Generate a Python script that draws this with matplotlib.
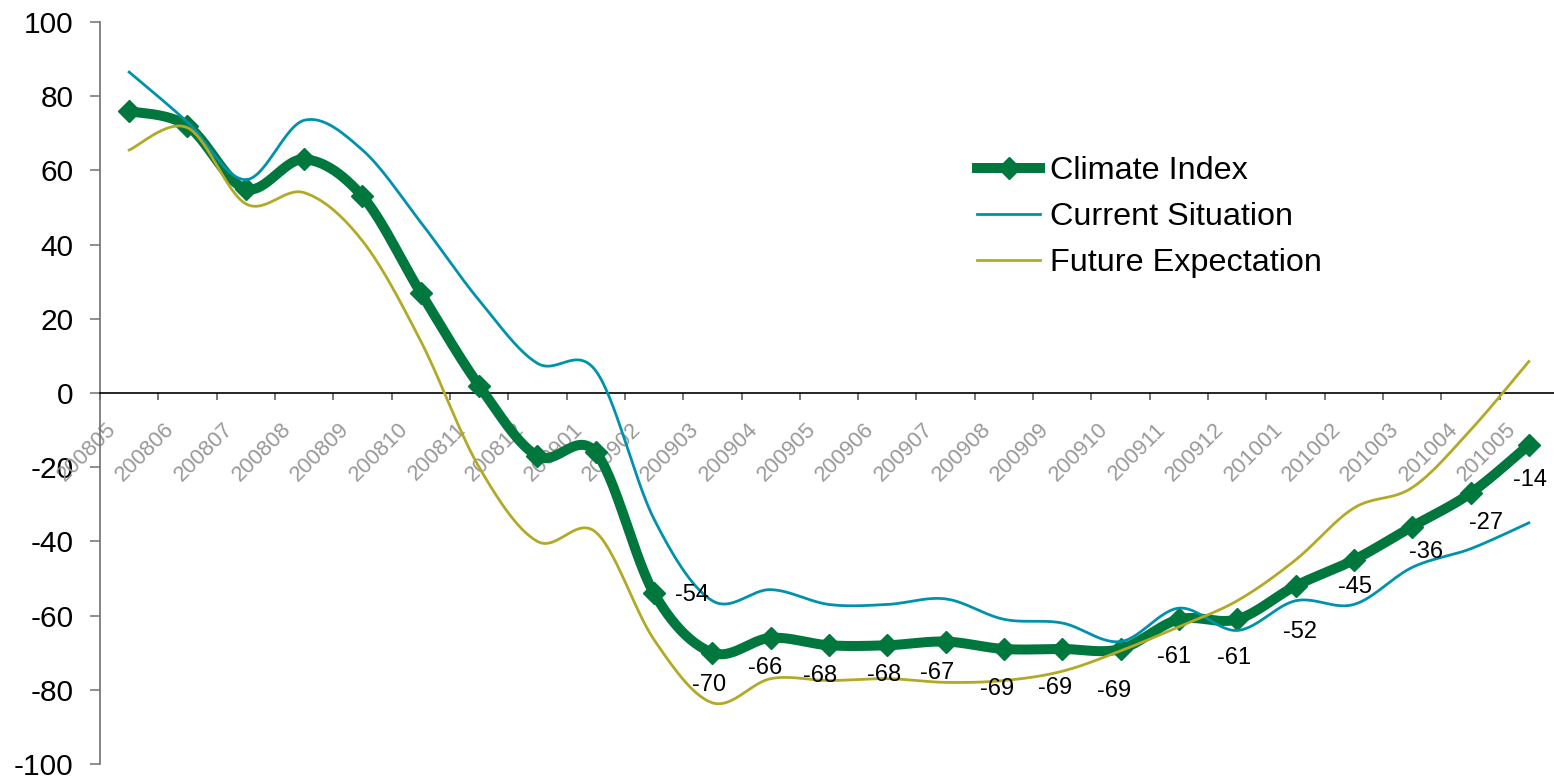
import numpy as np
import matplotlib
matplotlib.use("Agg")
import matplotlib.pyplot as plt
from matplotlib.transforms import ScaledTranslation

plt.rcParams["font.family"] = ["Liberation Sans", "DejaVu Sans"]
plt.rcParams["axes.unicode_minus"] = False

months = ["200805", "200806", "200807", "200808", "200809", "200810", "200811",
          "200812", "200901", "200902", "200903", "200904", "200905", "200906",
          "200907", "200908", "200909", "200910", "200911", "200912", "201001",
          "201002", "201003", "201004", "201005"]
climate_index = [76, 72, 55, 63, 53, 27, 2, -17, -16, -54, -70, -66, -68, -68,
                 -67, -69, -69, -69, -61, -61, -52, -45, -36, -27, -14]
current_situation = [86.5, 73, 57.5, 73.5, 65.5, 46, 25, 8, 6, -34, -56, -53,
                     -57, -57, -55.5, -61, -62, -67, -58, -64, -56, -57, -47, -42, -35]
future_expectation = [65.5, 71.5, 51, 54, 41, 14, -20, -40, -37.5, -66.5, -83.5,
                      -77, -77.5, -77, -78, -77.5, -75, -69.5, -63, -56, -45, -31,
                      -25.5, -10, 8.5]
# months from this index on carry a value label
first_label = 9

GREEN = "#00773D"
TEAL = "#0092AA"
OLIVE = "#B2AA26"

# value label offsets in pixels (dx, dy), one per labelled point
label_offsets = [(38, -2), (-3, -32), (-6, -30), (-9, -31), (-3, -30), (-9, -31),
                 (-7, -40), (-7, -39), (-7, -42), (-5, -38), (-3, -39), (4, -46),
                 (1, -27), (14, -25), (16, -30), (1, -35)]


def smooth(values, steps=30):
    # bezier smoothing through every point, control points from neighbours
    y = np.asarray(values, dtype=float)
    x = np.arange(len(y), dtype=float)
    n = len(y)
    xs, ys = [], []
    for i in range(n - 1):
        a, b = max(i - 1, 0), min(i + 2, n - 1)
        c1 = (x[i] + (x[i + 1] - x[a]) / 6, y[i] + (y[i + 1] - y[a]) / 6)
        c2 = (x[i + 1] - (x[b] - x[i]) / 6, y[i + 1] - (y[b] - y[i]) / 6)
        t = np.linspace(0, 1, steps, endpoint=(i == n - 2))
        u = 1 - t
        xs.append(u**3 * x[i] + 3 * u**2 * t * c1[0] + 3 * u * t**2 * c2[0] + t**3 * x[i + 1])
        ys.append(u**3 * y[i] + 3 * u**2 * t * c1[1] + 3 * u * t**2 * c2[1] + t**3 * y[i + 1])
    return np.concatenate(xs), np.concatenate(ys)


fig = plt.figure(figsize=(15.54, 7.76), dpi=100)
ax = fig.add_axes([100 / 1554, 12 / 776, 1458 / 1554, 742 / 776])
ax.set_xlim(-0.5, 24.5)
ax.set_ylim(-100, 100)

x = np.arange(len(months))

sx, sy = smooth(climate_index)
ax.plot(sx, sy, color=GREEN, lw=7.2, solid_capstyle="butt", solid_joinstyle="round", zorder=3)
ax.plot(x, climate_index, ls="none", marker="D", ms=11.5, color=GREEN, zorder=3)
sx, sy = smooth(current_situation)
ax.plot(sx, sy, color=TEAL, lw=2, zorder=4)
sx, sy = smooth(future_expectation)
ax.plot(sx, sy, color=OLIVE, lw=2, zorder=4)

# legend handles
h1, = ax.plot([], [], color=GREEN, lw=7.2, marker="D", ms=11.5)
h2, = ax.plot([], [], color=TEAL, lw=2)
h3, = ax.plot([], [], color=OLIVE, lw=2)
ax.legend([h1, h2, h3], ["Climate Index", "Current Situation", "Future Expectation"],
          loc="upper left", bbox_to_anchor=(977 / 1554, 1 - 156 / 776),
          bbox_transform=fig.transFigure, frameon=False, fontsize=23.3,
          handlelength=1.95, handletextpad=0.3, labelspacing=0.5,
          borderpad=0, borderaxespad=0, numpoints=1)

# value labels
for k, i in enumerate(range(first_label, len(months))):
    dx, dy = label_offsets[k]
    tr = ax.transData + ScaledTranslation(dx / 100, dy / 100, fig.dpi_scale_trans)
    ax.text(i, climate_index[i], str(climate_index[i]), transform=tr,
            ha="center", va="center", fontsize=17, color="black", zorder=5)

# axes
for side in ("top", "right"):
    ax.spines[side].set_visible(False)
ax.spines["bottom"].set_position(("data", 0))
ax.spines["bottom"].set_color("black")
ax.spines["bottom"].set_linewidth(1.2)
ax.spines["left"].set_color("#707070")
ax.spines["left"].set_linewidth(1.2)

ax.set_yticks(range(-100, 101, 20))
ax.tick_params(axis="y", length=7.2, width=1.1, color="#707070", labelsize=21.5, pad=12)
ax.set_xticks(np.arange(-0.5, 24.6, 1))
ax.set_xticklabels([])
ax.tick_params(axis="x", length=5, width=1.1, color="#505050", direction="out")

# month labels hang under the zero line
for i, m in enumerate(months):
    tr = ax.transData + ScaledTranslation(-16 / 100, -33 / 100, fig.dpi_scale_trans)
    ax.text(i, 0, m, transform=tr, rotation=45, rotation_mode="anchor",
            ha="right", va="center", fontsize=15.8, color="#999999", zorder=2)

fig.savefig("out.png", dpi=100)
